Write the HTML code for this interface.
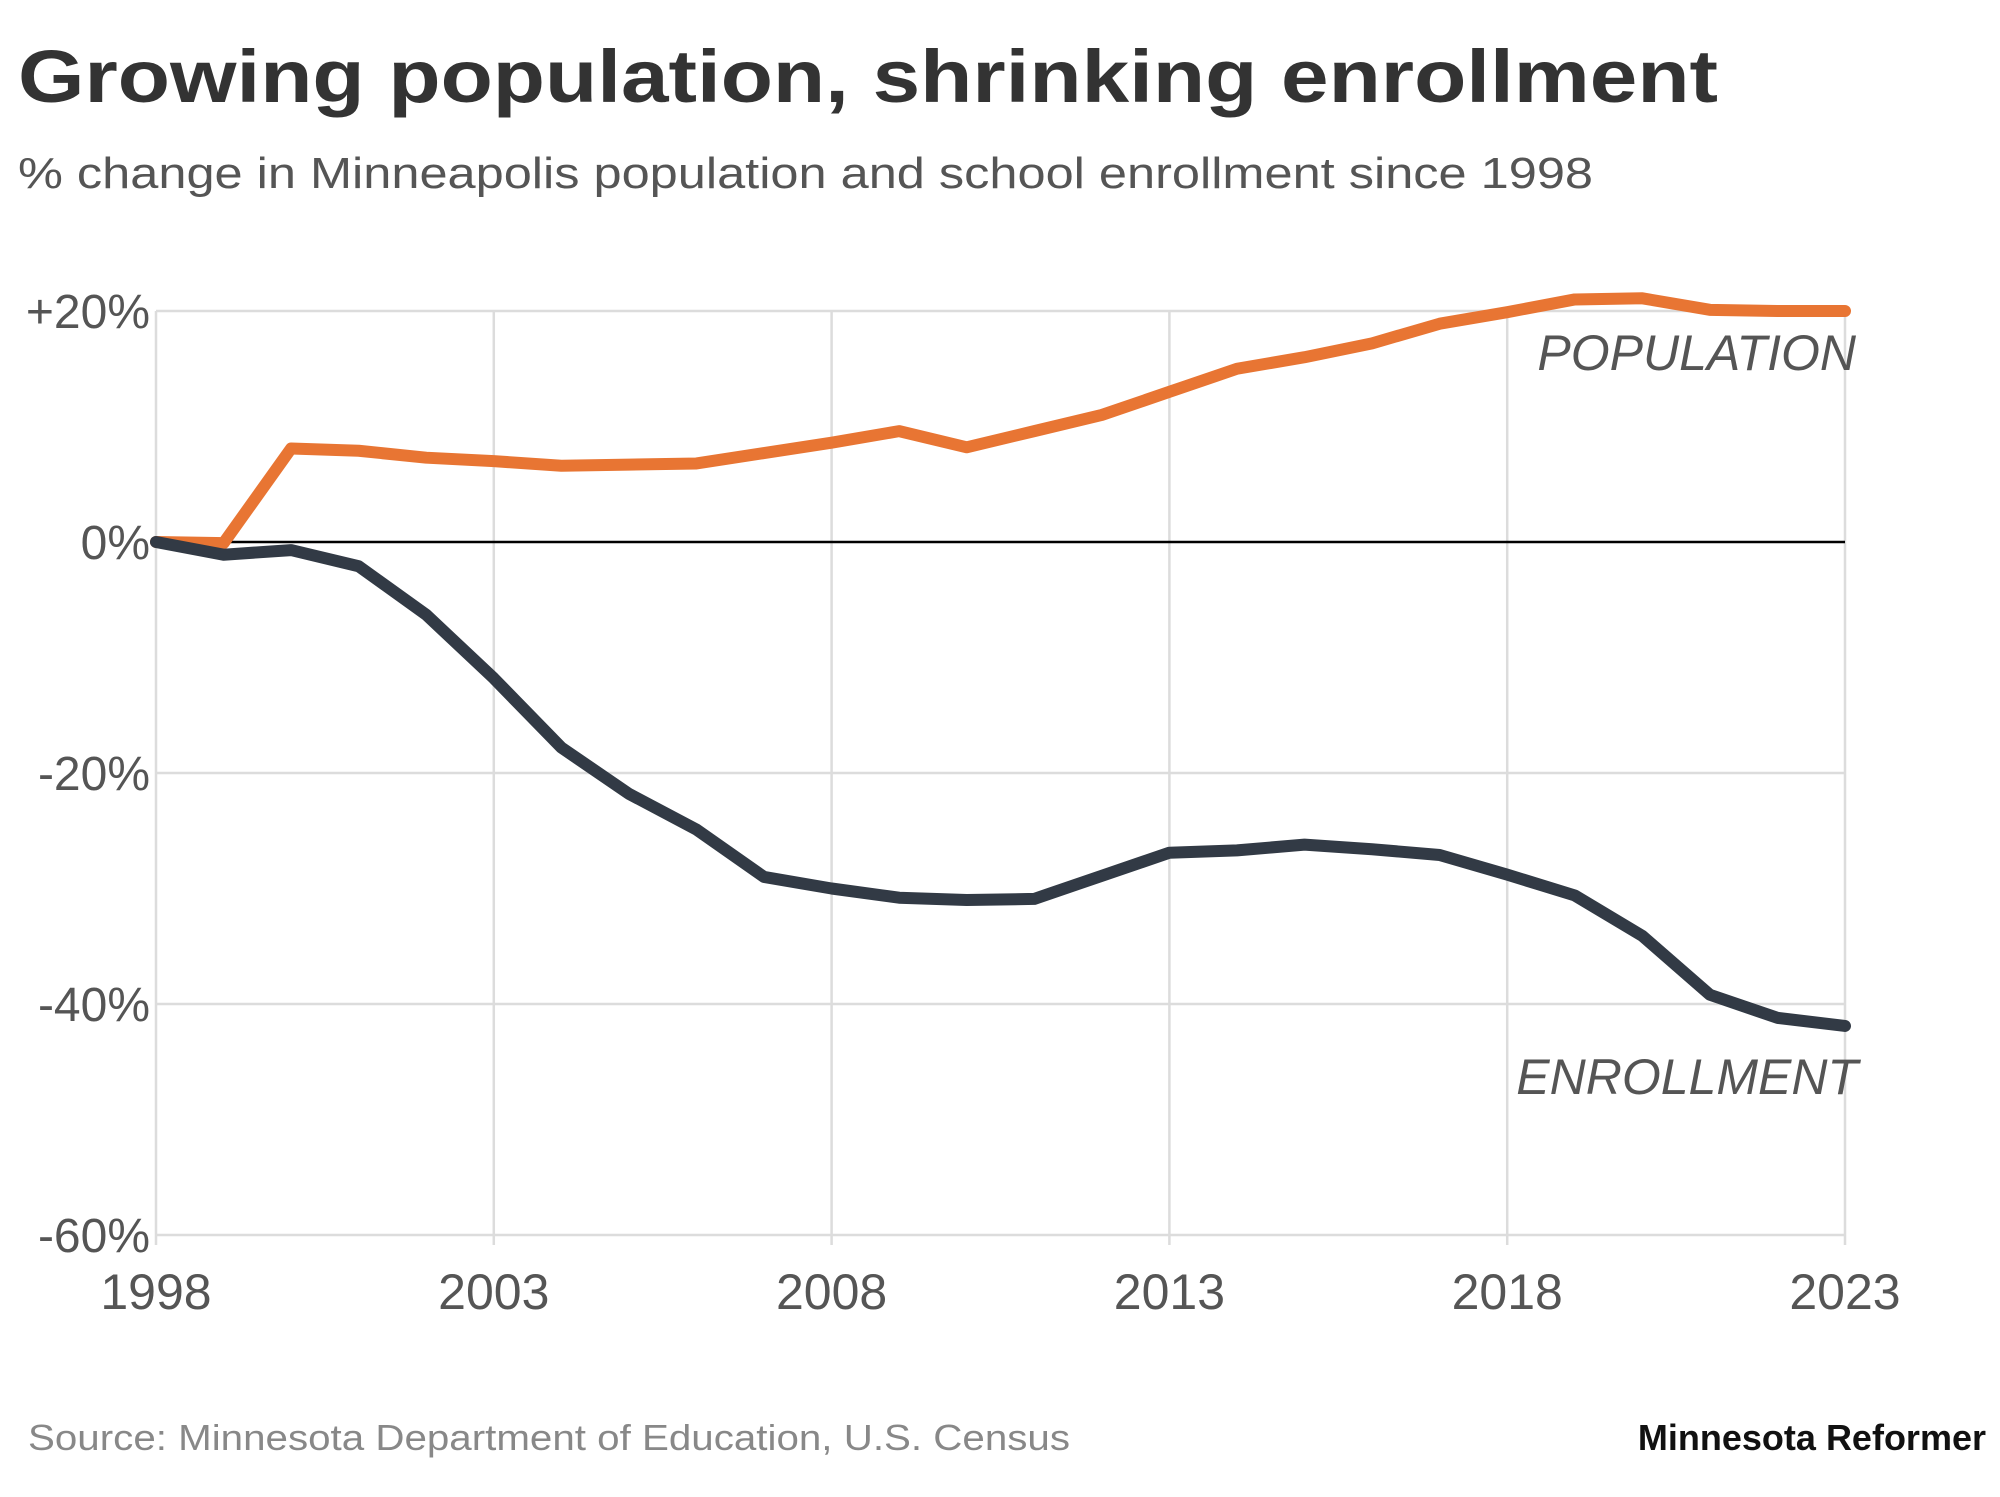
<!DOCTYPE html>
<html><head><meta charset="utf-8"><style>
body{margin:0;background:#fff;width:2000px;height:1492px;overflow:hidden;font-family:"Liberation Sans",sans-serif}
</style></head><body>
<svg width="2000" height="1492" xmlns="http://www.w3.org/2000/svg">
<text x="18" y="102" font-size="74" font-weight="bold" fill="#333" textLength="1700" lengthAdjust="spacingAndGlyphs">Growing population, shrinking enrollment</text>
<text x="18" y="188" font-size="44" fill="#555" textLength="1575" lengthAdjust="spacingAndGlyphs">% change in Minneapolis population and school enrollment since 1998</text>
<g id="grid"></g>
<g id="series"></g>
<text x="1856" y="370" font-size="50" font-style="italic" fill="#555" text-anchor="end">POPULATION</text>
<text x="1858" y="1094" font-size="50" font-style="italic" fill="#555" text-anchor="end">ENROLLMENT</text>
<text x="28" y="1450" font-size="36" fill="#888" textLength="1042" lengthAdjust="spacingAndGlyphs">Source: Minnesota Department of Education, U.S. Census</text>
<text x="1986" y="1450" font-size="36" font-weight="bold" fill="#111" text-anchor="end">Minnesota Reformer</text>
</svg>
<script>
const years=[1998,1999,2000,2001,2002,2003,2004,2005,2006,2007,2008,2009,2010,2011,2012,2013,2014,2015,2016,2017,2018,2019,2020,2021,2022,2023];
const population=[0,-0.1,8.1,7.9,7.3,7.0,6.6,6.7,6.8,7.7,8.6,9.6,8.2,9.6,11.0,13.0,15.0,16.0,17.2,18.9,19.9,21.0,21.1,20.1,20.0,20.0];
const enrollment=[0,-1.1,-0.7,-2.1,-6.3,-11.8,-17.8,-21.8,-24.9,-29.0,-30.0,-30.8,-31.0,-30.9,-28.9,-26.9,-26.7,-26.2,-26.6,-27.1,-28.8,-30.6,-34.1,-39.2,-41.2,-41.9];
const yTicks=[20,0,-20,-40,-60];
const yTickLabels=["+20%","0%","-20%","-40%","-60%"];
const xTicks=[1998,2003,2008,2013,2018,2023];
const NS="http://www.w3.org/2000/svg";
const X=y=>156+(y-1998)*(1845-156)/25;
const Y=v=>542-v*(1234-310)/80;
function mk(t,a,p){const e=document.createElementNS(NS,t);for(const k in a)e.setAttribute(k,a[k]);p.appendChild(e);return e;}
const grid=document.getElementById('grid'),ser=document.getElementById('series');
yTicks.forEach((v,i)=>{
  if(v!==0){const l=mk('line',{x1:156,x2:1845,y1:Y(v),y2:Y(v),stroke:'#dcdcdc','stroke-width':2.5},grid);
  
  }
  const t=mk('text',{x:150,y:Y(v)+17,'font-size':48,fill:'#555','text-anchor':'end'},grid);
  t.textContent=yTickLabels[i];
  
  
});
xTicks.forEach(yr=>{
  const l=mk('line',{x1:X(yr),x2:X(yr),y1:Y(20),y2:Y(-60)+10,stroke:'#dcdcdc','stroke-width':2.5},grid);
  
  
  const t=mk('text',{x:X(yr),y:1309,'font-size':50,fill:'#555','text-anchor':'middle'},grid);
  t.textContent=yr;
  
  
});
const z=mk('line',{x1:150,x2:1845,y1:Y(0),y2:Y(0),stroke:'#000','stroke-width':2.5},grid);


function line(vals,color,name){
  const d=vals.map((v,i)=>(i?'L':'M')+X(years[i])+','+Y(v)).join(' ');
  const p=mk('path',{d:d,fill:'none',stroke:color,'stroke-width':12,'stroke-linejoin':'round','stroke-linecap':'round'},ser);
  
  
}
line(population,'#e87533','population-line');
line(enrollment,'#323a45','enrollment-line');
</script>
</body></html>
